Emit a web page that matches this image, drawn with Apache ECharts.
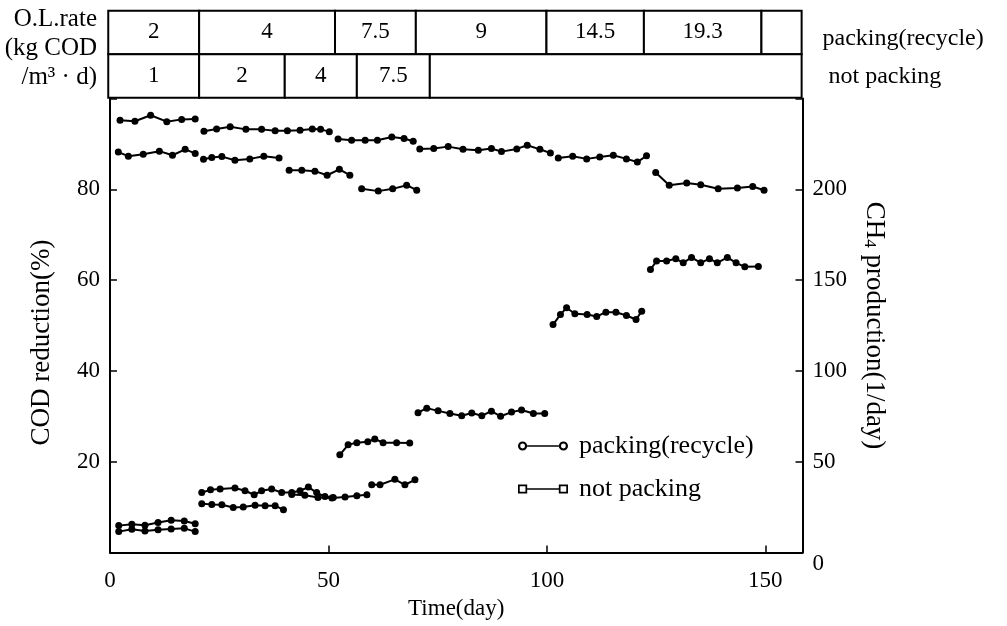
<!DOCTYPE html>
<html>
<head>
<meta charset="utf-8">
<script src="https://cdn.jsdelivr.net/npm/echarts@6/dist/echarts.min.js"></script>
<style>
  html, body { margin: 0; padding: 0; background: #fff; }
  #chart { width: 1007px; height: 626px; }
</style>
</head>
<body>
<div id="chart"></div>
<script>
// COD reduction (%) as [day, value], one array per operating period
const codPacking1 = [[2.3, 95.2], [5.7, 95.0], [9.3, 96.3], [13.0, 94.9], [16.4, 95.4], [19.5, 95.5]];
const codPacking2 = [[21.5, 92.8], [24.4, 93.3], [27.5, 93.8], [31.1, 93.2], [34.7, 93.2], [37.8, 92.9], [40.6, 92.9], [43.5, 93.0], [46.3, 93.3], [48.2, 93.2], [50.2, 92.7]];
const codPacking3 = [[52.2, 91.1], [55.3, 90.8], [58.4, 90.8], [61.2, 90.8], [64.5, 91.5], [67.3, 91.2], [69.4, 90.6]];
const codPacking4 = [[70.9, 88.9], [74.1, 89.0], [77.4, 89.4], [80.8, 88.8], [84.3, 88.6], [87.3, 89.0], [89.6, 88.3], [93.1, 88.9], [95.5, 89.7], [98.4, 88.8], [100.8, 88.0]];
const codPacking5 = [[102.6, 86.9], [105.9, 87.3], [109.1, 86.7], [112.1, 87.1], [115.2, 87.5], [118.2, 86.7], [120.7, 86.0], [122.8, 87.4]];
const codPacking6 = [[124.9, 83.7], [128.0, 80.9], [132.0, 81.4], [135.2, 81.0], [139.2, 80.1], [143.6, 80.3], [147.1, 80.6], [149.7, 79.8]];

const codNoPacking1 = [[1.9, 88.2], [4.2, 87.3], [7.6, 87.7], [11.3, 88.4], [14.3, 87.5], [17.2, 88.8], [19.5, 87.9]];
const codNoPacking2 = [[21.4, 86.6], [23.3, 87.0], [25.6, 87.2], [28.6, 86.4], [32.0, 86.7], [35.2, 87.3], [38.7, 86.9]];
const codNoPacking3 = [[41.0, 84.2], [43.9, 84.2], [46.9, 84.0], [49.7, 83.1], [52.5, 84.4], [54.9, 83.1]];
const codNoPacking4 = [[57.6, 80.1], [61.4, 79.6], [64.7, 80.1], [67.9, 80.9], [70.2, 79.8]];

// CH4 production (l/day) as [day, value]
const ch4Packing1 = [[2.0, 14.8], [5.0, 15.5], [8.0, 15.0], [11.0, 16.5], [14.0, 17.8], [17.0, 17.3], [19.5, 15.8]];
const ch4Packing2 = [[21.0, 33.0], [23.0, 34.5], [25.2, 35.0], [28.6, 35.5], [30.9, 34.0], [33.0, 31.8], [34.7, 34.0], [37.0, 35.0], [39.3, 33.0], [41.6, 33.0], [43.5, 34.0], [45.4, 36.0], [47.3, 33.0], [49.2, 30.8], [51.1, 30.3]];
const ch4Packing3 = [[52.6, 53.8], [54.5, 59.3], [56.5, 60.5], [59.0, 61.0], [60.6, 62.5], [62.5, 60.5], [65.6, 60.5], [68.6, 60.3]];
const ch4Packing4 = [[70.5, 77.0], [72.5, 79.5], [75.1, 78.0], [77.8, 76.5], [80.5, 75.3], [82.8, 76.8], [85.1, 75.3], [87.3, 77.8], [89.4, 75.0], [91.9, 77.3], [94.2, 78.5], [96.9, 76.5], [99.5, 76.5]];
const ch4Packing5 = [[101.4, 125.5], [103.1, 131.0], [104.5, 134.8], [106.4, 131.5], [109.2, 131.0], [111.4, 130.0], [113.5, 132.3], [115.8, 132.3], [118.2, 130.5], [120.4, 128.3], [121.7, 132.8]];
const ch4Packing6 = [[123.7, 155.8], [125.1, 160.5], [127.4, 160.5], [129.5, 161.8], [131.2, 159.5], [133.1, 162.5], [135.2, 159.5], [137.2, 161.8], [139.0, 159.5], [141.3, 162.5], [143.3, 159.5], [145.3, 157.3], [148.4, 157.5]];

const ch4NoPacking1 = [[2.0, 11.5], [5.0, 12.8], [8.0, 11.8], [11.0, 12.5], [14.0, 13.0], [17.0, 13.3], [19.5, 11.5]];
const ch4NoPacking2 = [[21.0, 26.8], [23.3, 26.5], [25.6, 26.3], [28.2, 24.8], [30.5, 25.0], [33.2, 26.0], [35.5, 25.8], [37.8, 25.8], [39.7, 23.5]];
const ch4NoPacking3 = [[41.6, 32.0], [44.6, 31.5], [47.6, 30.3], [50.8, 30.0], [53.8, 30.5], [56.5, 31.3], [58.8, 31.8]];
const ch4NoPacking4 = [[59.9, 37.3], [61.8, 37.3], [65.2, 40.3], [67.5, 37.3], [69.8, 40.0]];

// Organic loading rate (kg COD/m3·d) periods: cell edges in days and labels
const olrRows = ['packing(recycle)', 'not packing'];
const olrPackingEdges = [-0.4, 20.4, 51.5, 70.0, 99.9, 122.2, 149.1, 158.3];
const olrPackingLabels = ['2', '4', '7.5', '9', '14.5', '19.3', ''];
const olrNoPackingEdges = [-0.4, 20.4, 40.0, 56.5, 73.2, 158.3];
const olrNoPackingLabels = ['1', '2', '4', '7.5', ''];

const FONT = '"Liberation Serif", "Times New Roman", serif';
const BLACK = '#000';

// join periods into one line, leaving a gap between consecutive periods
function joinPeriods(periods) {
  const out = [];
  periods.forEach((p, i) => {
    if (i > 0) out.push([p[0][0] - 0.1, '-']);
    p.forEach(pt => out.push(pt));
  });
  return out;
}

const tableCells = [];
olrPackingLabels.forEach((lab, i) => tableCells.push([olrPackingEdges[i], olrPackingEdges[i + 1], 0, lab]));
olrNoPackingLabels.forEach((lab, i) => tableCells.push([olrNoPackingEdges[i], olrNoPackingEdges[i + 1], 1, lab]));

const ringIcon = 'path://M0.5,5 A4.5,4.5 0 1 1 9.5,5 A4.5,4.5 0 1 1 0.5,5 Z M2.6,5 A2.4,2.4 0 1 0 7.4,5 A2.4,2.4 0 1 0 2.6,5 Z ' +
  'M9.5,4.2 L40.5,4.2 L40.5,5.8 L9.5,5.8 Z ' +
  'M40.5,5 A4.5,4.5 0 1 1 49.5,5 A4.5,4.5 0 1 1 40.5,5 Z M42.6,5 A2.4,2.4 0 1 0 47.4,5 A2.4,2.4 0 1 0 42.6,5 Z';
const squareIcon = 'path://M0.5,0.5 L9.5,0.5 L9.5,9.5 L0.5,9.5 Z M2.2,2.2 L2.2,7.8 L7.8,7.8 L7.8,2.2 Z ' +
  'M9.5,4.2 L40.5,4.2 L40.5,5.8 L9.5,5.8 Z ' +
  'M40.5,0.5 L49.5,0.5 L49.5,9.5 L40.5,9.5 Z M42.2,2.2 L42.2,7.8 L47.8,7.8 L47.8,2.2 Z';

const lineStyleCommon = {
  type: 'line',
  symbol: 'circle',
  symbolSize: 7,
  showSymbol: true,
  connectNulls: false,
  lineStyle: { color: BLACK, width: 2 },
  itemStyle: { color: BLACK },
  emphasis: { disabled: true },
  animation: false
};

const axisLineStyle = { color: BLACK, width: 2 };
const labelStyle = { color: BLACK, fontFamily: FONT, fontSize: 23 };

const chart = echarts.init(document.getElementById('chart'), null, { renderer: 'canvas' });

chart.setOption({
  backgroundColor: '#fff',
  animation: false,
  grid: [
    { left: 110, right: 204.5, top: 98.5, bottom: 73.5, outerBoundsMode: 'none' },
    { left: 110, right: 204.5, top: 10.7, height: 87, outerBoundsMode: 'none' }
  ],
  xAxis: [
    {
      gridIndex: 0, type: 'value', min: 0, max: 158.5, interval: 50,
      axisLine: { show: true, lineStyle: axisLineStyle },
      axisTick: { show: true, inside: true, length: 7, lineStyle: { color: BLACK, width: 1.5 } },
      axisLabel: Object.assign({ margin: 17 }, labelStyle),
      splitLine: { show: false },
      name: 'Time(day)', nameLocation: 'middle', nameGap: 44,
      nameTextStyle: { color: BLACK, fontFamily: FONT, fontSize: 23 }
    },
    { gridIndex: 1, type: 'value', min: 0, max: 158.5, show: false }
  ],
  yAxis: [
    {
      gridIndex: 0, type: 'value', min: 0, max: 100, interval: 20, position: 'left',
      axisLine: { show: true, lineStyle: axisLineStyle },
      axisTick: { show: true, inside: true, length: 7, lineStyle: { color: BLACK, width: 1.5 } },
      axisLabel: Object.assign({ margin: 10, formatter: v => (v === 0 || v === 100) ? '' : String(v) }, labelStyle),
      splitLine: { show: false },
      name: 'COD reduction(%)', nameLocation: 'middle', nameGap: 55,
      nameTextStyle: { color: BLACK, fontFamily: FONT, fontSize: 27, padding: [0, 34, 0, 0] }
    },
    {
      gridIndex: 0, type: 'value', min: 0, max: 250, interval: 50, position: 'right',
      axisLine: { show: true, lineStyle: axisLineStyle },
      axisTick: { show: true, inside: true, length: 7, lineStyle: { color: BLACK, width: 1.5 } },
      axisLabel: Object.assign({
        margin: 10,
        formatter: v => v === 250 ? '' : (v === 0 ? '{low|0}' : String(v)),
        rich: { low: { fontFamily: FONT, fontSize: 23, color: BLACK, padding: [22, 0, 0, 0] } }
      }, labelStyle),
      splitLine: { show: false },
      name: 'CH{sub|4} production(1/day)', nameLocation: 'middle', nameGap: 58, nameRotate: -90,
      nameTextStyle: {
        color: BLACK, fontFamily: FONT, fontSize: 27,
        rich: { sub: { fontFamily: FONT, fontSize: 17, color: BLACK, padding: [10, 0, 0, 0] } }
      }
    },
    {
      gridIndex: 1, type: 'category', data: olrRows, inverse: true, position: 'right',
      axisLine: { show: false }, axisTick: { show: false }, splitLine: { show: false },
      axisLabel: {
        color: BLACK, fontFamily: FONT, fontSize: 24, margin: 20,
        formatter: v => v === olrRows[0] ? '{a|' + v + '}' : '{b|' + v + '}',
        rich: {
          a: { fontFamily: FONT, fontSize: 24, color: BLACK, padding: [12, 0, 0, 0] },
          b: { fontFamily: FONT, fontSize: 24, color: BLACK, padding: [2, 0, 0, 6] }
        }
      }
    }
  ],
  legend: {
    orient: 'vertical', left: 513, top: 428,
    itemWidth: 50, itemHeight: 10, itemGap: 17,
    selectedMode: false,
    data: [
      { name: 'packing(recycle)', icon: ringIcon },
      { name: 'not packing', icon: squareIcon }
    ],
    textStyle: { color: BLACK, fontFamily: FONT, fontSize: 26, padding: [0, 0, 0, 6] }
  },
  graphic: [
    {
      type: 'text', x: 97, y: 5,
      style: {
        text: 'O.L.rate\n(kg COD\n/m³ · d)', align: 'right', verticalAlign: 'top',
        lineHeight: 29, fontFamily: FONT, fontSize: 25, fill: BLACK
      }
    }
  ],
  series: [
    Object.assign({ name: 'packing(recycle)', xAxisIndex: 0, yAxisIndex: 0,
      data: joinPeriods([codPacking1, codPacking2, codPacking3, codPacking4, codPacking5, codPacking6]) }, lineStyleCommon),
    Object.assign({ name: 'not packing', xAxisIndex: 0, yAxisIndex: 0,
      data: joinPeriods([codNoPacking1, codNoPacking2, codNoPacking3, codNoPacking4]) }, lineStyleCommon),
    Object.assign({ name: 'packing(recycle)', xAxisIndex: 0, yAxisIndex: 1,
      data: joinPeriods([ch4Packing1, ch4Packing2, ch4Packing3, ch4Packing4, ch4Packing5, ch4Packing6]) }, lineStyleCommon),
    Object.assign({ name: 'not packing', xAxisIndex: 0, yAxisIndex: 1,
      data: joinPeriods([ch4NoPacking1, ch4NoPacking2, ch4NoPacking3, ch4NoPacking4]) }, lineStyleCommon),
    {
      type: 'custom', name: 'olr', xAxisIndex: 1, yAxisIndex: 2, clip: false, silent: true,
      data: tableCells.map(c => [c[0], c[2]]),
      encode: { x: 0, y: 1 },
      renderItem: function (params, api) {
        const cell = tableCells[params.dataIndex];
        const a = api.coord([cell[0], cell[2]]);
        const b = api.coord([cell[1], cell[2]]);
        const h = api.size([0, 1])[1];
        const top = a[1] - h / 2;
        return {
          type: 'group',
          children: [
            { type: 'rect', shape: { x: a[0], y: top, width: b[0] - a[0], height: h },
              style: { fill: '#fff', stroke: BLACK, lineWidth: 2 } },
            { type: 'text', x: (a[0] + b[0]) / 2, y: a[1],
              style: { text: cell[3], align: 'center', verticalAlign: 'middle',
                       fontFamily: FONT, fontSize: 23, fill: BLACK } }
          ]
        };
      }
    }
  ]
});
</script>
</body>
</html>
